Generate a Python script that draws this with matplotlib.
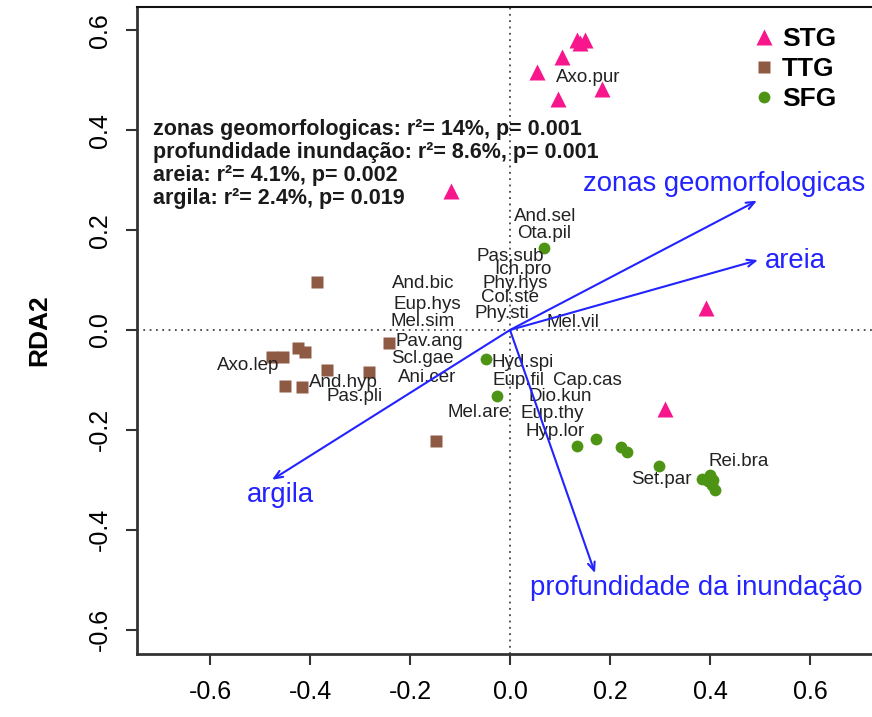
import numpy as np
import matplotlib.pyplot as plt
from matplotlib.lines import Line2D

plt.rcParams['font.family'] = ['Liberation Sans', 'DejaVu Sans']
plt.rcParams['axes.unicode_minus'] = False

# site scores by group
stg_x = [0.134, 0.150, 0.140, 0.104, 0.054, 0.096, 0.184, -0.118, 0.392, 0.310]
stg_y = [0.581, 0.581, 0.575, 0.547, 0.517, 0.463, 0.483, 0.279, 0.044, -0.158]

ttg_x = [-0.386, -0.476, -0.454, -0.424, -0.410, -0.366, -0.282, -0.450, -0.416, -0.242, -0.148]
ttg_y = [0.096, -0.054, -0.054, -0.036, -0.044, -0.080, -0.084, -0.112, -0.114, -0.026, -0.222]

sfg_x = [0.068, -0.048, -0.026, 0.134, 0.172, 0.222, 0.234, 0.298, 0.384, 0.400, 0.406, 0.395, 0.410, 0.404]
sfg_y = [0.164, -0.058, -0.132, -0.232, -0.218, -0.234, -0.244, -0.272, -0.299, -0.291, -0.300, -0.302, -0.321, -0.310]

# species labels
spp = ['Axo.pur', 'And.sel', 'Ota.pil', 'Pas.sub', 'Ich.pro', 'Phy.hys', 'Col.ste', 'Phy.sti',
       'Mel.vil', 'And.bic', 'Eup.hys', 'Mel.sim', 'Pav.ang', 'Scl.gae', 'Ani.cer', 'Axo.lep',
       'And.hyp', 'Pas.pli', 'Hyd.spi', 'Eup.fil', 'Cap.cas', 'Dio.kun', 'Mel.are', 'Eup.thy',
       'Hyp.lor', 'Rei.bra', 'Set.par']
spp_x = [0.156, 0.070, 0.068, 0.000, 0.026, 0.010, 0.000, -0.016,
         0.126, -0.174, -0.166, -0.174, -0.162, -0.176, -0.166, -0.524,
         -0.334, -0.310, 0.026, 0.016, 0.154, 0.100, -0.062, 0.084,
         0.090, 0.458, 0.302]
spp_y = [0.505, 0.227, 0.194, 0.148, 0.122, 0.094, 0.066, 0.034,
         0.016, 0.094, 0.052, 0.018, -0.024, -0.058, -0.096, -0.072,
         -0.106, -0.134, -0.066, -0.102, -0.102, -0.134, -0.166, -0.168,
         -0.204, -0.264, -0.299]

# environmental vectors
env = ['zonas geomorfologicas', 'areia', 'argila', 'profundidade da inundação']
env_x = [0.494, 0.496, -0.476, 0.170]
env_y = [0.259, 0.140, -0.300, -0.487]
env_lx = [0.428, 0.570, -0.460, 0.372]
env_ly = [0.292, 0.138, -0.330, -0.517]

stats = ['zonas geomorfologicas: r²= 14%, p= 0.001',
         'profundidade inundação: r²= 8.6%, p= 0.001',
         'areia: r²= 4.1%, p= 0.002',
         'argila: r²= 2.4%, p= 0.019']

groups = ['STG', 'TTG', 'SFG']
cols = ['#F7168C', '#8E5A44', '#4E9414']

fig = plt.figure(figsize=(8.72, 7.17), dpi=100)
ax = fig.add_axes([137/872, 63/717, 746/872, 647/717])
ax.set_xlim(-0.746, 0.746)
ax.set_ylim(-0.649, 0.647)

ax.axhline(0, color='#444444', ls=(0, (1, 2.5)), lw=1.3, zorder=1)
ax.axvline(0, color='#444444', ls=(0, (1, 2.5)), lw=1.3, zorder=1)

ax.plot(stg_x, stg_y, '^', ms=12, color=cols[0], mec='none', zorder=3)
ax.plot(ttg_x, ttg_y, 's', ms=9, color=cols[1], mec='none', zorder=3)
ax.plot(sfg_x, sfg_y, 'o', ms=8.5, color=cols[2], mec='none', zorder=3)

for s, x, y in zip(spp, spp_x, spp_y):
    ax.text(x, y, s, fontsize=13.5, color='#222222', ha='center', va='center', zorder=4)

for name, x, y, lx, ly in zip(env, env_x, env_y, env_lx, env_ly):
    ax.annotate('', xy=(x, y), xytext=(0, 0),
                arrowprops=dict(arrowstyle='->,head_length=0.6,head_width=0.25',
                                color='#2323FF', lw=1.5, shrinkA=0, shrinkB=0), zorder=5)
    ax.text(lx, ly, name, fontsize=19.8, color='#2323FF', ha='center', va='center', zorder=5)

# fit statistics block, one line per variable
for i, s in enumerate(stats):
    ax.text(16/746, 1 - (129 + i*23.3 - 7)/647, s, transform=ax.transAxes,
            fontsize=15.5, fontweight='bold', color='#1a1a1a', ha='left', va='center')

handles = [Line2D([], [], marker=m, ls='none', color=c, mec='none', ms=s)
           for m, c, s in zip(['^', 's', 'o'], cols, [12, 9, 8.5])]
ax.legend(handles, groups, loc='upper left', bbox_to_anchor=(740/872, 703/717),
          bbox_transform=fig.transFigure, frameon=False, prop={'weight': 'bold', 'size': 19},
          handlelength=0.8, handletextpad=0.3, labelspacing=0.22, borderpad=0)

ax.set_xticks([-0.6, -0.4, -0.2, 0.0, 0.2, 0.4, 0.6])
ax.set_yticks([-0.6, -0.4, -0.2, 0.0, 0.2, 0.4, 0.6])
ax.tick_params(length=8, width=1.5, color='#333333', labelsize=18, pad=11)
ax.tick_params(axis='y', pad=10)
plt.setp(ax.get_yticklabels(), rotation=90, va='center')
ax.set_ylabel('RDA2', fontsize=19, fontweight='bold')
ax.yaxis.set_label_coords(-0.115, 0.5)

for sp in ax.spines.values():
    sp.set_linewidth(2)
    sp.set_color('#333333')
ax.spines['top'].set_color('#111111')
ax.spines['top'].set_linewidth(1.5)

fig.savefig('out.png', dpi=100)
